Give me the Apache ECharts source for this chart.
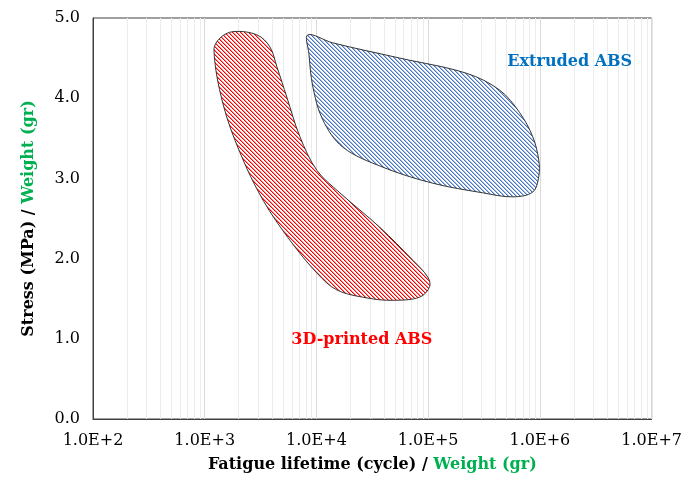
<!DOCTYPE html>
<html>
<head>
<meta charset="utf-8">
<script src="https://cdn.jsdelivr.net/npm/echarts@6/dist/echarts.min.js"></script>
<style>
  html, body { margin: 0; padding: 0; background: #fff; }
  #chart { width: 685px; height: 483px; }
</style>
</head>
<body>
<div id="chart"></div>
<script>
// tick labels
const xTickLabels = ["1.0E+2", "1.0E+3", "1.0E+4", "1.0E+5", "1.0E+6", "1.0E+7"];
const yTickLabels = ["0.0", "1.0", "2.0", "3.0", "4.0", "5.0"];

// 3D-printed ABS region outline (cycles, stress)
const printedX = [1790, 2930, 3830, 4430, 5440, 7110, 10100, 16200, 36900, 72800, 99100, 103000,
  84100, 48200, 28200, 15200, 10100, 5780, 3320, 2070, 1450, 1210, 1370];
const printedY = [4.83, 4.79, 4.64, 4.39, 4.01, 3.52, 3.10, 2.82, 2.39, 1.98, 1.77, 1.65,
  1.52, 1.48, 1.51, 1.61, 1.82, 2.23, 2.73, 3.32, 3.94, 4.60, 4.75];

// Extruded ABS region outline (cycles, stress)
const extrudedX = [8370, 14000, 55700, 221000, 437000, 659000, 862000, 976000, 976000, 862000,
  572000, 308000, 110000, 39300, 17200, 11400, 9290, 8550];
const extrudedY = [4.79, 4.69, 4.50, 4.31, 4.10, 3.82, 3.52, 3.23, 3.02, 2.83,
  2.77, 2.82, 2.94, 3.14, 3.39, 3.73, 4.14, 4.56];

// region labels
const labelTexts = ["Extruded ABS", "3D-printed ABS"];
const labelX = [1850000, 25500];
const labelY = [4.45, 0.985];
const labelColors = ["#0070c0", "#ff0000"];

// hatch pattern: "\" stripes every 4 px, one solid pixel plus a soft edge
function hatch(color) {
  const c = document.createElement("canvas");
  c.width = 4;
  c.height = 4;
  const ctx = c.getContext("2d");
  ctx.fillStyle = "#fff";
  ctx.fillRect(0, 0, 4, 4);
  for (let y = 0; y < 4; y++) {
    for (let x = 0; x < 4; x++) {
      const d = ((x - y) % 4 + 4) % 4;
      if (d === 0) {
        ctx.globalAlpha = 1;
      } else if (d === 1) {
        ctx.globalAlpha = 0.45;
      } else {
        continue;
      }
      ctx.fillStyle = color;
      ctx.fillRect(x, y, 1, 1);
    }
  }
  return { image: c, repeat: "repeat" };
}

// minor log grid positions (2..9 in each decade)
const minorLines = [];
for (let k = 2; k < 7; k++) {
  for (let m = 2; m < 10; m++) minorLines.push(m * Math.pow(10, k));
}

function region(xs, ys, fill) {
  return {
    type: "custom",
    z: 3,
    silent: true,
    data: [0],
    renderItem: function (params, api) {
      const pts = xs.map((x, i) => api.coord([x, ys[i]]));
      return {
        type: "polygon",
        shape: { points: pts, smooth: 0.35 },
        style: { fill: fill, stroke: "#333", lineWidth: 1 },
      };
    },
  };
}

const serif = "DejaVu Serif";
const chart = echarts.init(document.getElementById("chart"));

chart.setOption({
  animation: false,
  grid: {
    left: 93, right: 33, top: 18, bottom: 64,
    show: true, borderColor: "#404040", borderWidth: 1,
  },
  xAxis: {
    type: "log",
    logBase: 10,
    min: 100,
    max: 10000000,
    axisLine: { lineStyle: { color: "#404040" } },
    axisTick: { show: false },
    splitLine: { show: true, lineStyle: { color: "#d9d9d9" } },
    axisLabel: {
      margin: 14,
      fontFamily: serif, fontSize: 16, color: "#000",
      formatter: (v) => xTickLabels[Math.round(Math.log10(v)) - 2],
    },
    name: "{a|Fatigue lifetime (cycle) / }{g|Weight (gr)}",
    nameLocation: "middle",
    nameGap: 38,
    nameTextStyle: {
      rich: {
        a: { fontFamily: serif, fontWeight: "bold", fontSize: 16, color: "#000" },
        g: { fontFamily: serif, fontWeight: "bold", fontSize: 16, color: "#00b050" },
      },
    },
  },
  yAxis: {
    type: "value",
    min: 0,
    max: 5,
    interval: 1,
    axisLine: { show: true, lineStyle: { color: "#404040" } },
    axisTick: { show: false },
    splitLine: { show: false },
    axisLabel: {
      margin: 13,
      fontFamily: serif, fontSize: 16, color: "#000",
      formatter: (v) => yTickLabels[Math.round(v)],
    },
    name: "{a|Stress (MPa) / }{g|Weight (gr)}",
    nameLocation: "middle",
    nameGap: 56,
    nameTextStyle: {
      rich: {
        a: { fontFamily: serif, fontWeight: "bold", fontSize: 16, color: "#000" },
        g: { fontFamily: serif, fontWeight: "bold", fontSize: 16, color: "#00b050" },
      },
    },
  },
  series: [
    {
      // minor vertical grid lines
      type: "custom",
      z: 1,
      silent: true,
      data: minorLines,
      renderItem: function (params, api) {
        const a = api.coord([api.value(0), 0]);
        const b = api.coord([api.value(0), 5]);
        const x = Math.round(a[0]) + 0.5;
        return {
          type: "line",
          shape: { x1: x, y1: a[1], x2: x, y2: b[1] },
          style: { stroke: "#ececec", lineWidth: 1 },
        };
      },
    },
    region(printedX, printedY, hatch("#ff0000")),
    region(extrudedX, extrudedY, hatch("#4472c4")),
    {
      type: "custom",
      z: 4,
      silent: true,
      data: labelTexts.map((t, i) => [labelX[i], labelY[i]]),
      renderItem: function (params, api) {
        const p = api.coord([api.value(0), api.value(1)]);
        const i = params.dataIndex;
        return {
          type: "text",
          x: p[0], y: p[1],
          style: {
            text: labelTexts[i],
            fill: labelColors[i],
            font: "bold 16px '" + serif + "'",
            align: "center",
            verticalAlign: "middle",
          },
        };
      },
    },
  ],
});
</script>
</body>
</html>
